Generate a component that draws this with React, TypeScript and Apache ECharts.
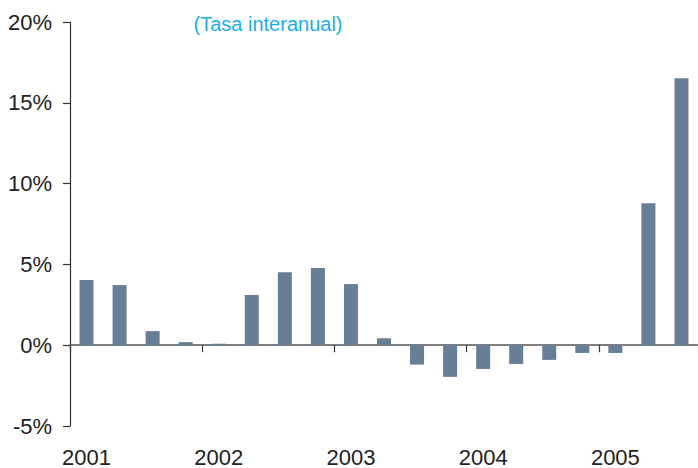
import React, { useEffect, useRef } from "react";
import * as echarts from "echarts";

const categories = [
  "2001-T1", "2001-T2", "2001-T3", "2001-T4",
  "2002-T1", "2002-T2", "2002-T3", "2002-T4",
  "2003-T1", "2003-T2", "2003-T3", "2003-T4",
  "2004-T1", "2004-T2", "2004-T3", "2004-T4",
  "2005-T1", "2005-T2", "2005-T3",
];
const yearLabels = [
  "2001", "", "", "",
  "2002", "", "", "",
  "2003", "", "", "",
  "2004", "", "", "",
  "2005", "", "",
];
const values = [
  4.03, 3.72, 0.87, 0.19,
  0.09, 3.1, 4.52, 4.77,
  3.78, 0.43, -1.2, -1.96,
  -1.47, -1.16, -0.91, -0.48,
  -0.48, 8.79, 16.52,
];
const subtitle = "(Tasa interanual)";

export default function App() {
  const ref = useRef<HTMLDivElement>(null);
  useEffect(() => {
    document.body.style.margin = "0";
    const chart = echarts.init(ref.current!, null, { renderer: "svg" });
    const font = "'Liberation Sans', Arial, Helvetica, sans-serif";
    chart.setOption({
      animation: false,
      backgroundColor: "#ffffff",
      textStyle: { fontFamily: font },
      title: {
        text: subtitle,
        left: 263,
        top: 9,
        textAlign: "center",
        textStyle: { color: "#1aaee8", fontSize: 20, fontWeight: "normal", fontFamily: font },
      },
      grid: { left: 70, top: 22, width: 633.33, height: 404, containLabel: false },
      xAxis: [
        {
          type: "category",
          data: categories,
          position: "bottom",
          axisLine: { onZero: true, lineStyle: { color: "#555555", width: 1.5 } },
          axisTick: {
            show: true,
            length: 7,
            interval: (i: number) => i % 4 === 0,
            lineStyle: { color: "#333333", width: 1.2 },
          },
          axisLabel: { show: false },
          splitLine: { show: false },
        },
        {
          type: "category",
          data: yearLabels,
          position: "bottom",
          gridIndex: 0,
          axisLine: { show: false, onZero: false },
          axisTick: { show: false },
          axisLabel: {
            interval: 0,
            margin: 20,
            color: "#222222",
            fontSize: 22,
            fontFamily: font,
          },
          splitLine: { show: false },
        },
      ],
      yAxis: {
        type: "value",
        min: -5,
        max: 20,
        interval: 5,
        axisLine: { show: true, lineStyle: { color: "#333333", width: 1.2 } },
        axisTick: { show: true, length: 7, lineStyle: { color: "#333333", width: 1.2 } },
        axisLabel: {
          formatter: "{value}%",
          margin: 18,
          color: "#222222",
          fontSize: 22,
          fontFamily: font,
        },
        splitLine: { show: false },
      },
      series: [
        {
          type: "bar",
          data: values,
          xAxisIndex: 0,
          barWidth: 14,
          itemStyle: { color: "#687e96" },
        },
      ],
    });
    return () => chart.dispose();
  }, []);
  return (
    <div
      ref={ref}
      style={{ position: "fixed", left: 0, top: 0, width: 698, height: 468 }}
    />
  );
}
